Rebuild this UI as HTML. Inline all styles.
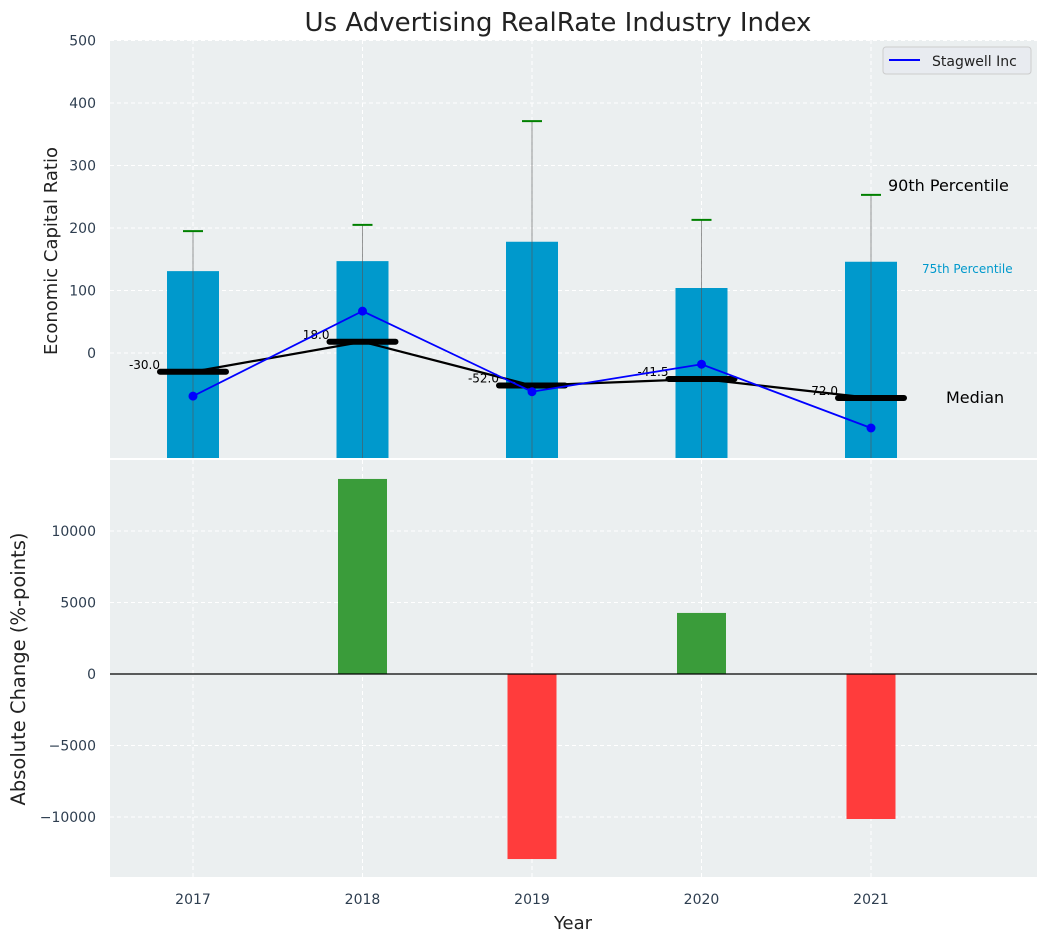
<!DOCTYPE html>
<html><head><meta charset="utf-8"><style>
body{margin:0;background:#fff;}
svg{display:block;font-family:"DejaVu Sans","Liberation Sans",sans-serif;}
</style></head><body>
<svg id="c" width="1048" height="942" xmlns="http://www.w3.org/2000/svg"></svg>
<script>
const years=[2017,2018,2019,2020,2021];
const p75=[131,147,178,104,146];
const p90=[195,205,371,213,253];
const median=[-30,18,-52,-41.5,-72];
const medianLabels=["-30.0","18.0","-52.0","-41.5","-72.0"];
const stagwell=[-69,67,-62,-18,-120];
const change=[0,13640,-12940,4270,-10140];
const topTicks=[0,100,200,300,400,500];
const botTicks=[-10000,-5000,0,5000,10000];

const NS="http://www.w3.org/2000/svg";
const svg=document.getElementById('c');
function mk(t,a,p){const e=document.createElementNS(NS,t);for(const k in a)e.setAttribute(k,a[k]);(p||svg).appendChild(e);return e;}
const L=110,R=1037;
const x=v=>193+(v-2017)*169.5;
const yT=v=>353-v*0.625;
const yB=v=>674-v*0.0143;
const T0=40,T1=458,B0=460,B1=877;

let bg1=mk('rect',{x:L,y:T0,width:R-L,height:T1-T0,fill:'#ebeff0'});


let bg2=mk('rect',{x:L,y:B0,width:R-L,height:B1-B0,fill:'#ebeff0'});



years.forEach(v=>{
  mk('line',{x1:x(v),x2:x(v),y1:T0,y2:T1,stroke:'#fff','stroke-dasharray':'4,3'});
  mk('line',{x1:x(v),x2:x(v),y1:B0,y2:B1,stroke:'#fff','stroke-dasharray':'4,3'});
});
topTicks.forEach(v=>{
  mk('line',{x1:L,x2:R,y1:yT(v),y2:yT(v),stroke:'#fff','stroke-dasharray':'4,3'});
  const t=mk('text',{x:96,y:yT(v)+5,'text-anchor':'end','font-size':14,fill:'#2e3e50'});t.textContent=v;
  
  
});
botTicks.forEach(v=>{
  mk('line',{x1:L,x2:R,y1:yB(v),y2:yB(v),stroke:'#fff','stroke-dasharray':'4,3'});
  const t=mk('text',{x:96,y:yB(v)+5,'text-anchor':'end','font-size':14,fill:'#2e3e50'});t.textContent=(v<0?'\u2212'+(-v):v);
  
  
});

years.forEach((v,i)=>{
  const b=mk('rect',{x:x(v)-26,y:yT(p75[i]),width:52,height:T1-yT(p75[i]),fill:'#0099cc'});
  
  
  mk('line',{x1:x(v),x2:x(v),y1:T1,y2:yT(p90[i]),stroke:'#555','stroke-opacity':0.6,'stroke-width':1});
  const c=mk('line',{x1:x(v)-10,x2:x(v)+10,y1:yT(p90[i]),y2:yT(p90[i]),stroke:'#008000','stroke-width':2});
  
  
});
let md='';years.forEach((v,i)=>{md+=(i?'L':'M')+x(v)+','+yT(median[i]);});
mk('path',{d:md,fill:'none',stroke:'#000','stroke-width':2.2});
years.forEach((v,i)=>{
  const m=mk('line',{x1:x(v)-33,x2:x(v)+33,y1:yT(median[i]),y2:yT(median[i]),stroke:'#000','stroke-width':6,'stroke-linecap':'round'});
  
  
  const t=mk('text',{x:x(v)-33,y:yT(median[i])-3,'text-anchor':'end','font-size':12,fill:'#000'});t.textContent=medianLabels[i];
  
  
});
let sd='';years.forEach((v,i)=>{sd+=(i?'L':'M')+x(v)+','+yT(stagwell[i]);});
const sp=mk('path',{d:sd,fill:'none',stroke:'#0000ff','stroke-width':1.8});


years.forEach((v,i)=>{
  const p=mk('circle',{cx:x(v),cy:yT(stagwell[i]),r:4.5,fill:'#0000ff'});
  
  
});
let a=mk('text',{x:888,y:191,'font-size':16,fill:'#000'});a.textContent='90th Percentile';

a=mk('text',{x:922,y:273,'font-size':12,fill:'#0099cc'});a.textContent='75th Percentile';

a=mk('text',{x:946,y:403,'font-size':16,fill:'#000'});a.textContent='Median';


const lg=mk('g',{});


mk('rect',{x:883,y:47,width:148,height:27,rx:3,fill:'#e8ebf0',stroke:'#ccc'},lg);
mk('line',{x1:889,x2:920,y1:60,y2:60,stroke:'#0000ff','stroke-width':2},lg);
const lt=mk('text',{x:932,y:66,'font-size':14,fill:'#222'},lg);lt.textContent='Stagwell Inc';

years.forEach((v,i)=>{
  const c=change[i];if(c===0)return;
  const y0=yB(Math.max(c,0)),y1=yB(Math.min(c,0));
  const b=mk('rect',{x:x(v)-24.5,y:y0,width:49,height:y1-y0,fill:c>0?'#3a9c3a':'#ff3c3c'});
  
  
});
mk('line',{x1:L,x2:R,y1:yB(0),y2:yB(0),stroke:'#000','stroke-width':1.2});
years.forEach(v=>{
  const t=mk('text',{x:x(v),y:904,'text-anchor':'middle','font-size':14,fill:'#2e3e50'});t.textContent=v;
  
  
});

let t=mk('text',{x:558,y:31,'text-anchor':'middle','font-size':26,fill:'#222'});t.textContent='Us Advertising RealRate Industry Index';

t=mk('text',{x:573,y:929,'text-anchor':'middle','font-size':18,fill:'#222'});t.textContent='Year';

t=mk('text',{x:0,y:0,'text-anchor':'middle','font-size':18,fill:'#222',transform:'translate(57,251) rotate(-90)'});t.textContent='Economic Capital Ratio';

t=mk('text',{x:0,y:0,'text-anchor':'middle','font-size':19.5,fill:'#222',transform:'translate(25,669) rotate(-90)'});t.textContent='Absolute Change (%-points)';

</script>
</body></html>
